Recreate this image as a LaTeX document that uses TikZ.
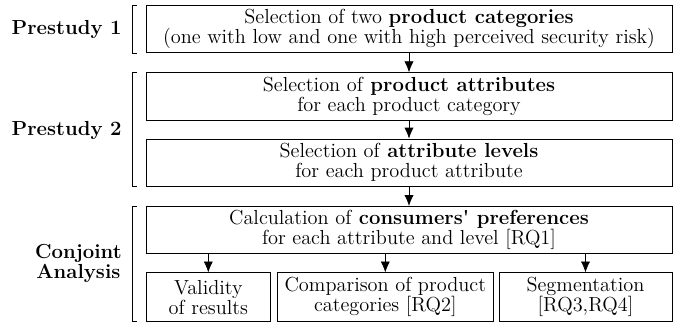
\documentclass[tikz,border=0pt]{standalone}
\usepackage{amsmath,amssymb,amsfonts}
\usepackage{tikz}
\usetikzlibrary{arrows.meta}

\tikzset{
    stage/.style={draw, align=center, inner sep=0pt, minimum height=28.5pt, font=\fontsize{12.2}{12}\selectfont},
    phase/.style={font=\fontsize{12.2}{12}\selectfont\bfseries, align=center, anchor=east, inner sep=0pt},
}

\begin{document}
\begin{tikzpicture}[x=0.6pt, y=-0.6pt, >={Latex[length=6.5pt,width=5.5pt]}]
        \useasboundingbox (0,0) rectangle (681,324);
        % main steps
        \node[stage, minimum width=315.6pt] (cat) at (409,29) {Selection of two \textbf{product categories}\\(one with low and one with high perceived security risk)};
        \node[stage, minimum width=315.6pt] (attr) at (409,96.3) {Selection of \textbf{product attributes}\\for each product category};
        \node[stage, minimum width=315.6pt] (lev) at (409,162.6) {Selection of \textbf{attribute levels}\\for each product attribute};
        \node[stage, minimum width=315.6pt] (pref) at (409,230) {Calculation of \textbf{consumers\textquotesingle{} preferences}\\for each attribute and level [RQ1]};
        \node[stage, minimum width=74.8pt, minimum height=29.4pt] (valid) at (208.3,297.2) {Validity\\of results};
        \node[stage, minimum width=129.6pt, minimum height=29.4pt] (comp) at (385.3,297.2) {Comparison of product\\categories [RQ2]};
        \node[stage, minimum width=103.8pt, minimum height=29.4pt] (seg) at (585.5,297.2) {Segmentation\\{[RQ3,RQ4]}};
        \draw[->] (cat) -- (attr);
        \draw[->] (attr) -- (lev);
        \draw[->] (lev) -- (pref);
        \foreach \n in {valid,comp,seg}
            \draw[->] (pref.south -| \n.north) -- (\n.north);
        % brackets
        \foreach \a/\b in {5/53, 72.7/186, 206.7/321.7}
            \draw (137,\a) -- (132.5,\a) -- (132.5,\b) -- (137,\b);
        \node[phase] (p1) at (122,29) {Prestudy 1};
        \node[phase] (p2) at (122,130) {Prestudy 2};
        \node[phase] (ca) at (122,263) {Conjoint\\Analysis};
    \end{tikzpicture}
\end{document}
